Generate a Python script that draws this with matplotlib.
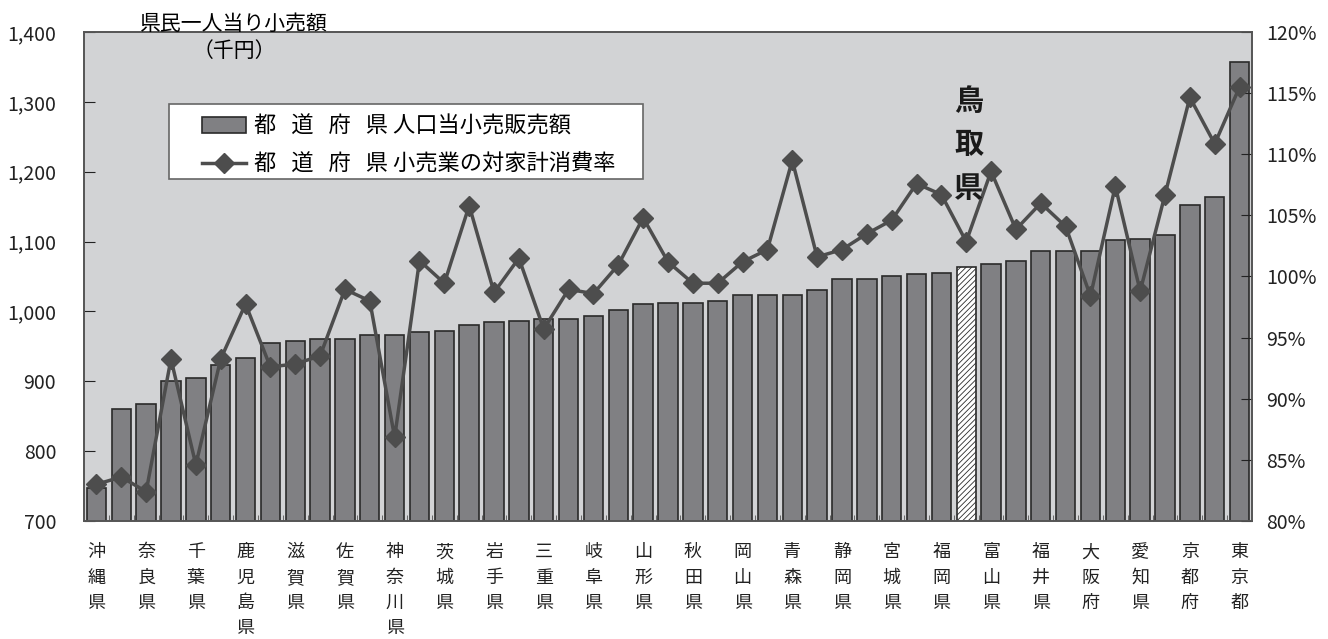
import numpy as np
import matplotlib.pyplot as plt
from matplotlib.patches import Rectangle
from matplotlib.ticker import FuncFormatter

plt.rcParams['font.family'] = ['Noto Sans CJK JP', 'DejaVu Sans']
plt.rcParams['hatch.linewidth'] = 0.6

# ラベル（一つおきに表示）
tick_labels = ['沖縄県', '奈良県', '千葉県', '鹿児島県', '滋賀県', '佐賀県', '神奈川県', '茨城県',
               '岩手県', '三重県', '岐阜県', '山形県', '秋田県', '岡山県', '青森県', '静岡県',
               '宮城県', '福岡県', '富山県', '福井県', '大阪府', '愛知県', '京都府', '東京都']

# 県民一人当り小売額（千円）
sales = [747, 860, 868, 900, 904, 924, 934, 955, 958, 961, 961, 966, 966, 970, 972, 981,
         985, 987, 989, 989, 994, 1002, 1011, 1012, 1012, 1015, 1023, 1023, 1023, 1030,
         1047, 1047, 1051, 1053, 1055, 1064, 1068, 1072, 1087, 1087, 1087, 1102, 1104,
         1109, 1153, 1164, 1357]

# 小売業の対家計消費率（%）
ratio = [83.0, 83.6, 82.4, 93.25, 84.6, 93.25, 97.75, 92.6, 92.85, 93.5, 98.95, 98.0,
         86.85, 101.3, 99.45, 105.8, 98.7, 101.5, 95.7, 98.95, 98.6, 100.95, 104.8, 101.2,
         99.45, 99.45, 101.2, 102.2, 109.5, 101.6, 102.2, 103.5, 104.6, 107.6, 106.7,
         102.85, 108.6, 103.85, 106.0, 104.1, 98.4, 107.4, 98.8, 106.7, 114.65, 110.85, 115.5]

tottori = 35  # 鳥取県の位置

x = np.arange(len(sales))

W, H = 1328, 639
fig = plt.figure(figsize=(W / 100, H / 100), dpi=100)
ax = fig.add_axes([84 / W, 1 - 521 / H, (1252 - 84) / W, (521 - 32) / H])
ax.set_facecolor('#d2d3d5')

# 棒グラフ
bars = ax.bar(x, sales, width=0.78, color='#808083', edgecolor='#2a2a2a', linewidth=1.2, zorder=2)
bars[tottori].set_facecolor('white')
bars[tottori].set_hatch('//////')
ax.set_ylim(700, 1400)
ax.set_xlim(-0.5, len(sales) - 0.5)
ax.set_yticks(range(700, 1401, 100))
ax.yaxis.set_major_formatter(FuncFormatter(lambda v, p: f'{int(v):,}'))
ax.tick_params(axis='y', direction='in', length=8, labelsize=14, pad=20, colors='#222222')
ax.set_xticks(x[::2])
ax.set_xticklabels(['\n'.join(s) for s in tick_labels], fontsize=13, linespacing=1.53,
                   va='top')
ax.tick_params(axis='x', length=0, pad=16, colors='#222222')
ax.set_xticks(x[:-1] + 0.5, minor=True)
ax.tick_params(axis='x', which='minor', direction='in', length=4, color='#555555')
for s in ax.spines.values():
    s.set_color('#555555')
    s.set_linewidth(1.2)

# 折れ線グラフ（右軸）
ax2 = ax.twinx()
line, = ax2.plot(x, ratio, color='#4d4d4d', linewidth=2.5, marker='D', markersize=10, zorder=3)
ax2.set_ylim(80, 120)
ax2.set_yticks(range(80, 121, 5))
ax2.yaxis.set_major_formatter(FuncFormatter(lambda v, p: f'{int(v)}%'))
ax2.tick_params(axis='y', direction='in', length=8, labelsize=14, pad=10, colors='#222222')
for s in ax2.spines.values():
    s.set_color('#555555')
    s.set_linewidth(1.2)

# 凡例（枠は別に描く）
ax2.add_patch(Rectangle((169 / W, 1 - 179 / H), (643 - 169) / W, (179 - 104) / H,
                        transform=fig.transFigure, facecolor='white', edgecolor='#666666',
                        linewidth=1.2, zorder=4, clip_on=False))
sp = '   '
leg = ax2.legend([bars[0], line],
                 [sp.join('都道府県') + ' 人口当小売販売額', sp.join('都道府県') + ' 小売業の対家計消費率'],
                 loc='upper left', bbox_to_anchor=((202 - 84) / 1168, (521 - 115) / 489),
                 borderaxespad=0, borderpad=0, fontsize=16, frameon=False,
                 handlelength=2.0, handletextpad=0.35, labelspacing=0.65)
leg.set_zorder(5)

# 注記
ax2.text(tottori + 0.1, 110.8, '鳥\n取\n県', ha='center', va='center', fontsize=21,
         fontweight='bold', linespacing=1.56, color='#1a1a1a')
fig.text(234 / W, 1 - 24 / H, '県民一人当り小売額', ha='center', va='center', fontsize=15)
fig.text(234 / W, 1 - 51 / H, '（千円）', ha='center', va='center', fontsize=15)

fig.savefig('out.png', dpi=100)
